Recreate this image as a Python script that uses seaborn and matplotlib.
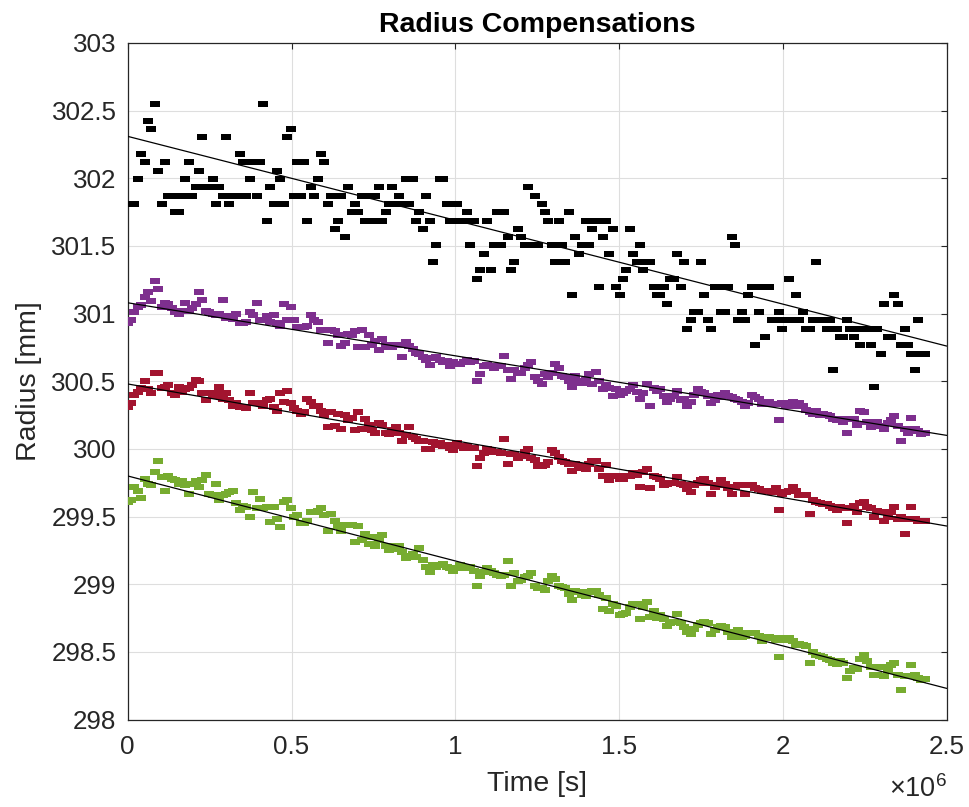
import numpy as np
import pandas as pd
import matplotlib
matplotlib.use("Agg")
import matplotlib.pyplot as plt
import seaborn as sns

# ---------------- data ----------------
sample_interval_s = 10355.0

black_mm = [
    301.811, 301.811, 301.811, 301.995, 302.179, 302.118, 302.425, 302.364, 302.548, 302.057,
    301.811, 302.118, 301.872, 301.872, 301.749, 301.749, 301.872, 301.995, 302.118, 301.872,
    301.934, 302.057, 302.302, 301.934, 301.934, 301.995, 301.811, 301.934, 301.872, 302.302,
    301.811, 301.872, 301.872, 302.179, 302.118, 301.872, 301.995, 302.118, 301.872, 302.118,
    302.548, 301.688, 301.934, 301.811, 302.057, 301.995, 301.811, 302.302, 302.364, 301.872,
    302.118, 301.872, 302.118, 301.688, 301.934, 301.872, 301.995, 302.179, 302.118, 301.811,
    301.872, 301.627, 301.688, 301.872, 301.565, 301.934, 301.749, 301.811, 301.749, 301.872,
    301.688, 301.872, 301.688, 301.872, 301.934, 301.688, 301.749, 301.811, 301.934, 301.811,
    301.872, 301.811, 301.995, 301.811, 301.995, 301.688, 301.749, 301.627, 301.872, 301.688,
    301.381, 301.504, 301.995, 301.995, 301.811, 301.688, 301.688, 301.811, 301.688, 301.688,
    301.749, 301.504, 301.688, 301.258, 301.319, 301.442, 301.688, 301.319, 301.504, 301.749,
    301.504, 301.749, 301.565, 301.319, 301.381, 301.627, 301.565, 301.504, 301.934, 301.504,
    301.872, 301.504, 301.811, 301.749, 301.688, 301.504, 301.381, 301.688, 301.504, 301.381,
    301.749, 301.135, 301.565, 301.442, 301.504, 301.688, 301.504, 301.627, 301.688, 301.197,
    301.565, 301.688, 301.442, 301.627, 301.197, 301.135, 301.258, 301.319, 301.627, 301.442,
    301.381, 301.504, 301.319, 301.381, 301.381, 301.197, 301.135, 301.135, 301.197, 301.074,
    301.258, 301.258, 301.442, 301.197, 301.381, 300.889, 300.951, 301.012, 301.012, 301.381,
    301.135, 300.951, 300.889, 301.197, 301.197, 301.012, 301.012, 301.197, 301.565, 301.504,
    300.951, 301.012, 300.951, 301.135, 301.197, 300.767, 301.012, 301.197, 300.828, 301.197,
    300.951, 300.951, 301.012, 300.889, 300.951, 301.258, 300.951, 301.135, 300.951, 301.012,
    300.889, 300.889, 300.951, 301.381, 300.951, 300.951, 300.889, 300.951, 300.582, 300.889,
    300.828, 300.828, 300.951, 300.889, 300.828, 300.889, 300.767, 300.889, 300.889, 300.767,
    300.459, 300.889, 300.705, 301.074, 300.828, 300.828, 301.135, 301.074, 300.767, 300.889,
    300.767, 300.705, 300.582, 300.951, 300.705, 300.705,
]

purple_mm = [
    300.93, 300.95, 301.01, 301.05, 301.06, 301.12, 301.16, 301.09, 301.24, 301.18,
    301.05, 301.08, 301.07, 301.04, 301.01, 301.00, 301.02, 301.08, 301.02, 301.04,
    301.07, 301.16, 301.10, 301.02, 301.01, 301.00, 300.99, 301.00, 301.10, 300.97,
    300.98, 300.96, 301.00, 300.93, 300.93, 300.94, 301.01, 300.99, 301.08, 300.95,
    300.95, 300.98, 300.94, 300.99, 300.93, 300.91, 301.07, 300.95, 301.05, 300.95,
    300.90, 300.90, 300.90, 300.91, 300.99, 300.95, 300.94, 300.88, 300.88, 300.78,
    300.88, 300.87, 300.84, 300.76, 300.78, 300.85, 300.84, 300.87, 300.75, 300.88,
    300.75, 300.84, 300.77, 300.80, 300.73, 300.81, 300.77, 300.75, 300.75, 300.77,
    300.77, 300.68, 300.79, 300.76, 300.74, 300.71, 300.70, 300.68, 300.66, 300.62,
    300.67, 300.68, 300.66, 300.64, 300.65, 300.61, 300.64, 300.63, 300.63, 300.64,
    300.66, 300.64, 300.65, 300.50, 300.55, 300.61, 300.62, 300.61, 300.60, 300.61,
    300.61, 300.69, 300.58, 300.52, 300.58, 300.56, 300.56, 300.60, 300.62, 300.64,
    300.53, 300.50, 300.48, 300.55, 300.53, 300.56, 300.63, 300.60, 300.54, 300.53,
    300.50, 300.46, 300.54, 300.50, 300.49, 300.51, 300.55, 300.48, 300.57, 300.50,
    300.44, 300.47, 300.45, 300.39, 300.44, 300.40, 300.41, 300.43, 300.44, 300.47,
    300.42, 300.37, 300.41, 300.48, 300.32, 300.45, 300.43, 300.44, 300.39, 300.35,
    300.37, 300.39, 300.43, 300.36, 300.37, 300.32, 300.35, 300.40, 300.44, 300.42,
    300.41, 300.39, 300.34, 300.36, 300.40, 300.38, 300.41, 300.39, 300.38, 300.37,
    300.36, 300.35, 300.32, 300.34, 300.40, 300.38, 300.37, 300.33, 300.34, 300.35,
    300.33, 300.33, 300.21, 300.34, 300.32, 300.34, 300.35, 300.32, 300.34, 300.32,
    300.29, 300.27, 300.26, 300.28, 300.25, 300.26, 300.25, 300.24, 300.22, 300.21,
    300.22, 300.20, 300.12, 300.22, 300.22, 300.18, 300.28, 300.27, 300.20, 300.16,
    300.17, 300.20, 300.17, 300.15, 300.19, 300.21, 300.24, 300.17, 300.06, 300.15,
    300.12, 300.23, 300.15, 300.13, 300.11, 300.12,
]

red_mm = [
    300.31, 300.34, 300.40, 300.42, 300.45, 300.50, 300.44, 300.41, 300.56, 300.56,
    300.45, 300.46, 300.47, 300.41, 300.40, 300.46, 300.42, 300.44, 300.45, 300.47,
    300.51, 300.50, 300.41, 300.36, 300.41, 300.39, 300.41, 300.46, 300.37, 300.41,
    300.36, 300.32, 300.34, 300.31, 300.31, 300.30, 300.41, 300.34, 300.34, 300.34,
    300.32, 300.36, 300.37, 300.31, 300.28, 300.41, 300.35, 300.43, 300.34, 300.30,
    300.28, 300.26, 300.27, 300.37, 300.35, 300.32, 300.32, 300.28, 300.25, 300.16,
    300.27, 300.17, 300.26, 300.15, 300.25, 300.21, 300.23, 300.14, 300.27, 300.15,
    300.22, 300.18, 300.14, 300.12, 300.19, 300.18, 300.12, 300.11, 300.14, 300.16,
    300.12, 300.06, 300.10, 300.16, 300.09, 300.07, 300.06, 300.06, 300.00, 300.00,
    300.05, 300.03, 300.04, 300.02, 300.03, 300.01, 299.99, 300.04, 300.02, 300.01,
    300.02, 300.01, 300.01, 299.87, 299.93, 299.97, 300.00, 299.99, 299.98, 299.98,
    299.97, 300.07, 299.89, 299.96, 299.96, 299.93, 299.95, 299.98, 300.00, 299.93,
    299.92, 299.87, 299.87, 299.88, 299.90, 299.99, 299.97, 299.94, 299.91, 299.90,
    299.89, 299.84, 299.89, 299.87, 299.86, 299.85, 299.89, 299.91, 299.91, 299.85,
    299.80, 299.88, 299.77, 299.80, 299.80, 299.78, 299.78, 299.80, 299.80, 299.82,
    299.81, 299.72, 299.83, 299.85, 299.71, 299.80, 299.79, 299.78, 299.73, 299.74,
    299.75, 299.75, 299.79, 299.74, 299.73, 299.70, 299.68, 299.73, 299.75, 299.77,
    299.78, 299.75, 299.67, 299.72, 299.73, 299.77, 299.74, 299.71, 299.67, 299.72,
    299.73, 299.73, 299.67, 299.73, 299.73, 299.71, 299.70, 299.69, 299.69, 299.69,
    299.68, 299.71, 299.55, 299.67, 299.68, 299.69, 299.72, 299.69, 299.66, 299.66,
    299.66, 299.52, 299.62, 299.61, 299.60, 299.59, 299.59, 299.58, 299.56, 299.55,
    299.57, 299.56, 299.45, 299.56, 299.58, 299.53, 299.60, 299.61, 299.57, 299.56,
    299.50, 299.54, 299.53, 299.47, 299.50, 299.53, 299.57, 299.48, 299.50, 299.37,
    299.48, 299.57, 299.48, 299.47, 299.47, 299.47,
]

green_mm = [
    299.61, 299.62, 299.72, 299.69, 299.64, 299.78, 299.74, 299.73, 299.83, 299.91,
    299.79, 299.69, 299.80, 299.78, 299.77, 299.74, 299.76, 299.73, 299.67, 299.74,
    299.76, 299.72, 299.77, 299.81, 299.67, 299.66, 299.74, 299.62, 299.66, 299.67,
    299.68, 299.69, 299.60, 299.55, 299.58, 299.57, 299.50, 299.68, 299.56, 299.63,
    299.56, 299.57, 299.46, 299.57, 299.48, 299.42, 299.61, 299.62, 299.56, 299.50,
    299.51, 299.45, 299.45, 299.47, 299.53, 299.53, 299.54, 299.56, 299.51, 299.39,
    299.52, 299.47, 299.43, 299.39, 299.44, 299.44, 299.44, 299.31, 299.43, 299.33,
    299.37, 299.30, 299.35, 299.28, 299.33, 299.36, 299.28, 299.25, 299.26, 299.28,
    299.28, 299.24, 299.19, 299.21, 299.22, 299.20, 299.27, 299.18, 299.13, 299.09,
    299.14, 299.13, 299.14, 299.15, 299.13, 299.12, 299.10, 299.12, 299.14, 299.12,
    299.12, 299.13, 299.10, 298.99, 299.06, 299.09, 299.12, 299.10, 299.08, 299.07,
    299.06, 299.07, 299.17, 298.99, 299.08, 299.02, 299.03, 299.05, 299.06, 299.08,
    298.99, 298.97, 298.97, 298.96, 299.02, 299.06, 299.04, 298.99, 298.98, 298.97,
    298.93, 298.88, 298.95, 298.94, 298.92, 298.91, 298.94, 298.95, 298.95, 298.92,
    298.82, 298.90, 298.80, 298.85, 298.84, 298.77, 298.78, 298.79, 298.83, 298.85,
    298.85, 298.74, 298.83, 298.87, 298.76, 298.80, 298.75, 298.77, 298.74, 298.69,
    298.71, 298.72, 298.78, 298.71, 298.68, 298.65, 298.63, 298.67, 298.70, 298.71,
    298.72, 298.71, 298.63, 298.66, 298.68, 298.69, 298.68, 298.65, 298.61, 298.63,
    298.66, 298.61, 298.62, 298.64, 298.64, 298.64, 298.62, 298.58, 298.60, 298.61,
    298.60, 298.59, 298.46, 298.60, 298.59, 298.60, 298.58, 298.55, 298.56, 298.55,
    298.54, 298.42, 298.50, 298.48, 298.47, 298.46, 298.45, 298.44, 298.42, 298.41,
    298.43, 298.42, 298.31, 298.36, 298.38, 298.37, 298.45, 298.48, 298.43, 298.39,
    298.33, 298.33, 298.39, 298.32, 298.36, 298.40, 298.42, 298.33, 298.22, 298.32,
    298.32, 298.40, 298.33, 298.31, 298.29, 298.30,
]

series_names = ["black", "purple", "red", "green"]
series_colors = ["#000000", "#7E2F8E", "#A2142F", "#77AC30"]

# linear-fit lines: value at t = 0 and at t = 2.5e6 s
fit_time_s = [0.0, 2.5e6]
fit_start_mm = [302.31, 301.08, 300.48, 299.80]
fit_end_mm = [300.76, 300.10, 299.43, 298.23]

xtick_values = [0, 0.5e6, 1.0e6, 1.5e6, 2.0e6, 2.5e6]
xtick_labels = ["0", "0.5", "1", "1.5", "2", "2.5"]
ytick_values = [298, 298.5, 299, 299.5, 300, 300.5, 301, 301.5, 302, 302.5, 303]
ytick_labels = ["298", "298.5", "299", "299.5", "300", "300.5", "301", "301.5", "302", "302.5", "303"]

# ---------------- style ----------------
sns.set_theme(style="white")
plt.rcParams["font.family"] = ["Liberation Sans", "DejaVu Sans"]
plt.rcParams["mathtext.fontset"] = "custom"
plt.rcParams["mathtext.rm"] = "Liberation Sans"
plt.rcParams["mathtext.it"] = "Liberation Sans"

DARK = "#262626"

fig = plt.figure(figsize=(9.69, 8.07), dpi=100)
ax = fig.add_axes([127.7 / 969, 1 - 719.5 / 807, (946.7 - 127.7) / 969, (719.5 - 43) / 807])

time_s = np.arange(len(black_mm)) * sample_interval_s

rect_black = [(-1, -0.52), (1, -0.52), (1, 0.52), (-1, 0.52)]
rect_color = [(-1, -0.64), (1, -0.64), (1, 0.64), (-1, 0.64)]

all_series = [black_mm, purple_mm, red_mm, green_mm]
for k, (name, vals, col) in enumerate(zip(series_names, all_series, series_colors)):
    marker = rect_black if name == "black" else rect_color
    size = 50 if name == "black" else 44
    df = pd.DataFrame({"t": time_s, "r": vals})
    sns.scatterplot(data=df, x="t", y="r", ax=ax, color=col, marker=marker,
                    s=size, linewidth=0, alpha=1, zorder=3, legend=False)
    fit_df = pd.DataFrame({"t": fit_time_s, "r": [fit_start_mm[k], fit_end_mm[k]]})
    sns.lineplot(data=fit_df, x="t", y="r", ax=ax, color="black", lw=0.9,
                 zorder=4, legend=False)

ax.set_xlim(0, 2.5e6)
ax.set_ylim(298, 303)

ax.set_xticks(xtick_values)
ax.set_xticklabels(xtick_labels)
ax.set_yticks(ytick_values)
ax.set_yticklabels(ytick_labels)

ax.grid(True, color="#dedede", lw=0.8)
ax.set_axisbelow(True)
for sp in ax.spines.values():
    sp.set_color(DARK)
    sp.set_linewidth(0.9)
    sp.set_visible(True)

ax.tick_params(axis="both", direction="in", length=4.5, width=0.8, color=DARK,
               labelcolor=DARK, labelsize=18.7, top=True, right=True)
ax.tick_params(axis="y", pad=8)
ax.tick_params(axis="x", pad=11)

ax.set_xlabel("Time [s]", fontsize=20.5, color=DARK, labelpad=9)
ax.set_ylabel("Radius [mm]", fontsize=20.5, color=DARK, labelpad=7)
ax.set_title("Radius Compensations", fontsize=20.5, fontweight="bold", color="black", pad=8)

ax.text(1.0, -0.082, r"$\times\mathregular{10^{6}}$", transform=ax.transAxes,
        ha="right", va="top", fontsize=19.5, color=DARK)

fig.savefig("out.png", dpi=100)
